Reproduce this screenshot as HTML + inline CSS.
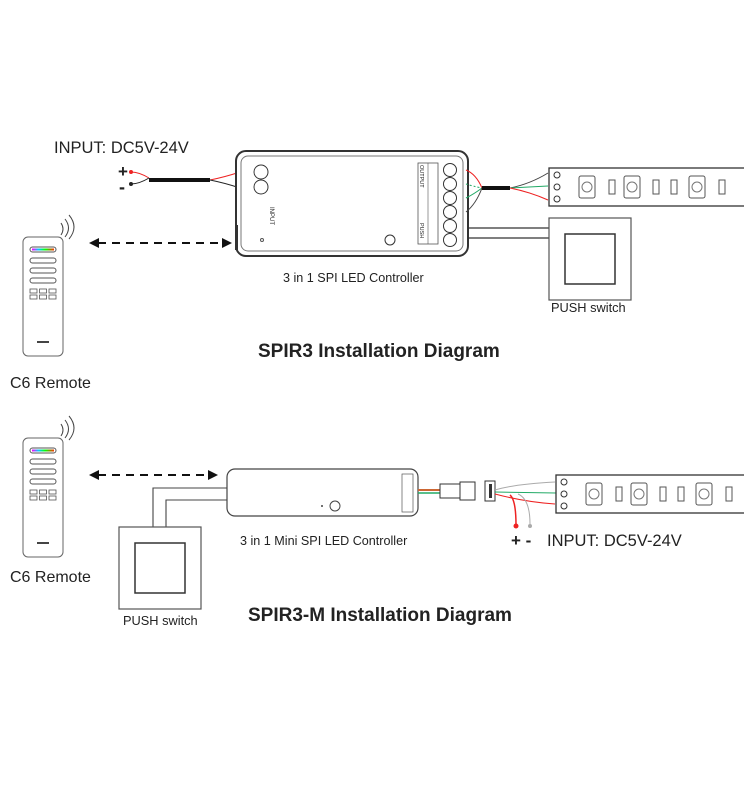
<!DOCTYPE html>
<html><head><meta charset="utf-8"><style>
body{margin:0;background:#fff}
svg{display:block}
text{font-family:"Liberation Sans",sans-serif;fill:#222}
</style></head><body>
<svg width="744" height="800" viewBox="0 0 744 800" xmlns="http://www.w3.org/2000/svg">
<defs>
<g id="remote">
<rect x="0" y="0" width="40" height="119" rx="5" fill="#fff" stroke="#666" stroke-width="1"/>
<rect x="7" y="10" width="26" height="5" rx="2.5" fill="none" stroke="#555"/>
<rect x="9" y="11.5" width="22" height="2" fill="url(#rb)"/>
<rect x="7" y="21" width="26" height="5" rx="2.5" fill="none" stroke="#555"/>
<rect x="7" y="31" width="26" height="5" rx="2.5" fill="none" stroke="#555"/>
<rect x="7" y="41" width="26" height="5" rx="2.5" fill="none" stroke="#555"/>
<rect x="7" y="52" width="7" height="4" fill="none" stroke="#555" stroke-width=".8"/>
<rect x="16.5" y="52" width="7" height="4" fill="none" stroke="#555" stroke-width=".8"/>
<rect x="26" y="52" width="7" height="4" fill="none" stroke="#555" stroke-width=".8"/>
<rect x="7" y="58" width="7" height="4" fill="none" stroke="#555" stroke-width=".8"/>
<rect x="16.5" y="58" width="7" height="4" fill="none" stroke="#555" stroke-width=".8"/>
<rect x="26" y="58" width="7" height="4" fill="none" stroke="#555" stroke-width=".8"/>
<rect x="14" y="104" width="12" height="2" fill="#444"/>
<path d="M40 0 q4 -6 0 -12 M44 2 q7 -9 0 -18 M48 4 q10 -12 0 -24" fill="none" stroke="#444" stroke-width="1" transform="translate(-2,-2)"/>
</g>
<linearGradient id="rb"><stop offset="0" stop-color="#f0f"/><stop offset=".3" stop-color="#0cf"/><stop offset=".6" stop-color="#0f0"/><stop offset="1" stop-color="#f30"/></linearGradient>
<g id="strip">
<rect x="0" y="0" width="200" height="38" fill="#fff" stroke="#333" stroke-width="1.3"/>
<circle cx="8" cy="7" r="3" fill="none" stroke="#333"/><circle cx="8" cy="19" r="3" fill="none" stroke="#333"/><circle cx="8" cy="31" r="3" fill="none" stroke="#333"/>
<rect x="30" y="8" width="16" height="22" rx="2" fill="none" stroke="#555"/><circle cx="38" cy="19" r="5" fill="none" stroke="#777"/>
<rect x="60" y="12" width="6" height="14" fill="none" stroke="#555"/>
<rect x="75" y="8" width="16" height="22" rx="2" fill="none" stroke="#555"/><circle cx="83" cy="19" r="5" fill="none" stroke="#777"/>
<rect x="104" y="12" width="6" height="14" fill="none" stroke="#555"/>
<rect x="122" y="12" width="6" height="14" fill="none" stroke="#555"/>
<rect x="140" y="8" width="16" height="22" rx="2" fill="none" stroke="#555"/><circle cx="148" cy="19" r="5" fill="none" stroke="#777"/>
<rect x="170" y="12" width="6" height="14" fill="none" stroke="#555"/>
</g>
<g id="push">
<rect x="0" y="0" width="82" height="82" fill="#fff" stroke="#555" stroke-width="1.2"/>
<rect x="16" y="16" width="50" height="50" fill="none" stroke="#333" stroke-width="1.5"/>
</g>
</defs>

<!-- TOP -->
<text x="54" y="153" font-size="16.5">INPUT: DC5V-24V</text>
<text x="118" y="177" font-size="17" font-weight="bold">+</text>
<text x="119" y="193" font-size="18" font-weight="bold">-</text>
<circle cx="131" cy="172" r="2" fill="#e22"/><circle cx="131" cy="184" r="2" fill="#222"/>
<path d="M131 172 q8 0 18 6" stroke="#e22" fill="none"/>
<path d="M131 184 q8 0 18 -6" stroke="#222" fill="none"/>
<line x1="149" y1="180" x2="210" y2="180" stroke="#111" stroke-width="4"/>
<path d="M210 180 q15 -3 30 -8" stroke="#e22" fill="none"/><path d="M210 180 q15 3 30 8" stroke="#222" fill="none"/>

<rect x="236" y="151" width="232" height="105" rx="10" fill="#fff" stroke="#333" stroke-width="2"/>
<rect x="241" y="156" width="222" height="95" rx="7" fill="none" stroke="#777" stroke-width="1"/>
<circle cx="261" cy="172" r="7" fill="none" stroke="#333"/><circle cx="261" cy="187" r="7" fill="none" stroke="#333"/>
<rect x="235" y="225" width="3" height="25" fill="#333"/>
<circle cx="390" cy="240" r="5" fill="none" stroke="#333"/>
<circle cx="262" cy="240" r="1.5" fill="none" stroke="#555"/>
<text x="0" y="0" font-size="6" transform="translate(270,207) rotate(90)">INPUT</text>
<rect x="418" y="163" width="20" height="81" fill="none" stroke="#555" stroke-width=".8"/>
<line x1="428" y1="163" x2="428" y2="244" stroke="#555" stroke-width=".6"/>
<text font-size="5.5" transform="translate(420,165) rotate(90)">OUTPUT</text>
<text font-size="5.5" transform="translate(420,223) rotate(90)">PUSH</text>
<g fill="none" stroke="#333"><circle cx="450" cy="170" r="6.5"/><circle cx="450" cy="184" r="6.5"/><circle cx="450" cy="198" r="6.5"/><circle cx="450" cy="212" r="6.5"/><circle cx="450" cy="226" r="6.5"/><circle cx="450" cy="240" r="6.5"/></g>
<path d="M466 170 q10 4 16 18" stroke="#e22" fill="none"/>
<path d="M466 184 q6 2 16 4" stroke="#2a6" fill="none" stroke-dasharray="2 2"/>
<path d="M466 198 q8 -4 16 -10" stroke="#2a6" fill="none"/>
<path d="M466 212 q10 -8 16 -24" stroke="#444" fill="none"/>
<line x1="482" y1="188" x2="510" y2="188" stroke="#111" stroke-width="4"/>
<path d="M510 188 q20 -4 38 -15" stroke="#444" fill="none"/>
<path d="M510 188 L548 186" stroke="#2a6" fill="none"/>
<path d="M510 188 q20 4 38 12" stroke="#e22" fill="none"/>
<use href="#strip" x="549" y="168"/>
<path d="M468 228 H549 M468 238 H549" stroke="#333" stroke-width="1.2" fill="none"/>
<use href="#push" x="549" y="218"/>
<text x="283" y="282" font-size="12.6">3 in 1 SPI LED Controller</text>
<text x="551" y="312" font-size="12.8">PUSH switch</text>
<text x="258" y="357" font-size="19" font-weight="bold">SPIR3 Installation Diagram</text>

<line x1="98" y1="243" x2="222" y2="243" stroke="#111" stroke-width="2" stroke-dasharray="8 6"/>
<path d="M89 243 l10 -5 v10z" fill="#111"/><path d="M232 243 l-10 -5 v10z" fill="#111"/>
<use href="#remote" x="23" y="237"/>
<text x="10" y="388" font-size="16">C6 Remote</text>

<!-- BOTTOM -->
<use href="#remote" x="23" y="438"/>
<text x="10" y="582" font-size="16">C6 Remote</text>
<line x1="98" y1="475" x2="208" y2="475" stroke="#111" stroke-width="2" stroke-dasharray="8 6"/>
<path d="M89 475 l10 -5 v10z" fill="#111"/><path d="M218 475 l-10 -5 v10z" fill="#111"/>

<path d="M227 488 H153 V527 M227 500 H166 V527" stroke="#444" fill="none" stroke-width="1.1"/>
<use href="#push" x="119" y="527"/>
<text x="123" y="625" font-size="12.8">PUSH switch</text>

<rect x="227" y="469" width="191" height="47" rx="8" fill="#fff" stroke="#444" stroke-width="1.2"/>
<circle cx="335" cy="506" r="5" fill="none" stroke="#444"/><circle cx="322" cy="506" r="1" fill="#444"/>
<rect x="402" y="474" width="11" height="38" fill="none" stroke="#555" stroke-width=".7"/>
<line x1="418" y1="490" x2="440" y2="490" stroke="#c63" stroke-width="2"/><line x1="418" y1="493" x2="440" y2="493" stroke="#2a6" stroke-width="1.5"/>
<rect x="440" y="484" width="20" height="14" fill="#fff" stroke="#333"/><rect x="460" y="482" width="15" height="18" fill="#fff" stroke="#333"/>
<rect x="485" y="481" width="10" height="20" fill="#fff" stroke="#333"/><rect x="489" y="484" width="3" height="14" fill="#333"/>
<path d="M495 490 q20 -6 60 -8" stroke="#aaa" fill="none"/>
<path d="M495 492 L556 493" stroke="#2a6" fill="none"/>
<path d="M495 494 q30 8 60 10" stroke="#e22" fill="none"/>
<path d="M510 495 q6 5 6 30" stroke="#e22" fill="none" stroke-width="1.5"/><circle cx="516" cy="526" r="2.5" fill="#e22"/>
<path d="M518 494 q12 5 12 30" stroke="#aaa" fill="none"/><circle cx="530" cy="526" r="2" fill="#aaa"/>
<use href="#strip" x="556" y="475"/>
<text x="511" y="546" font-size="17" font-weight="bold">+ -</text>
<text x="547" y="546" font-size="16.5">INPUT: DC5V-24V</text>
<text x="240" y="545" font-size="12.6">3 in 1 Mini SPI LED Controller</text>
<text x="248" y="621" font-size="19" font-weight="bold">SPIR3-M Installation Diagram</text>
</svg>
</body></html>
